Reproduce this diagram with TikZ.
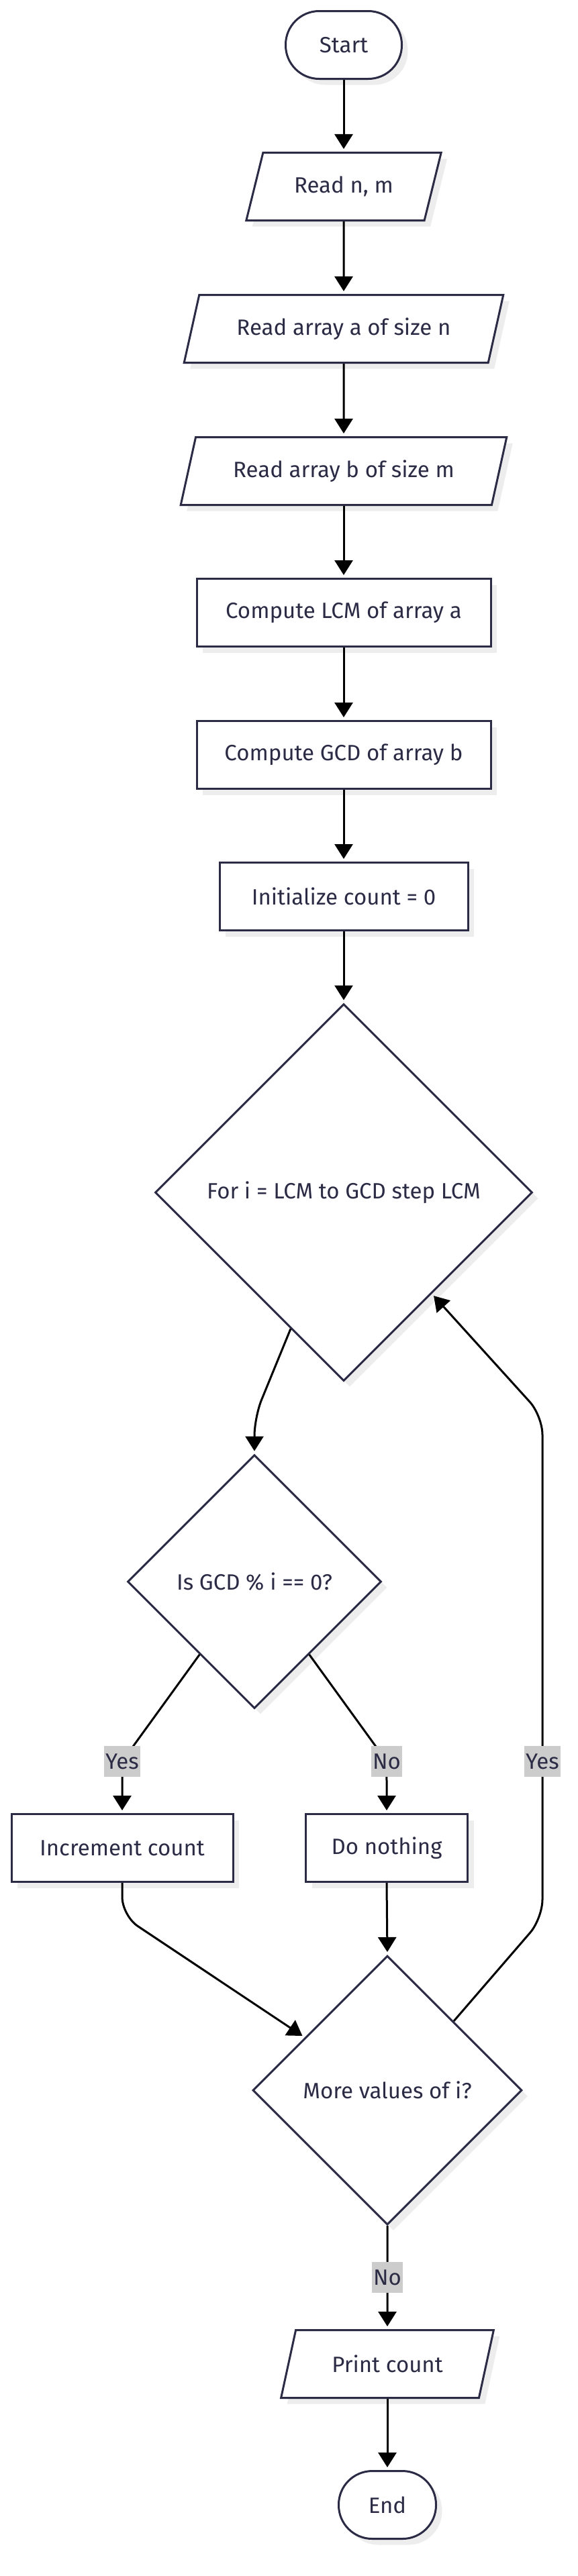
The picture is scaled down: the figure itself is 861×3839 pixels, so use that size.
\documentclass[tikz,border=0pt]{standalone}
\usepackage{fontspec}
\setmainfont{Fira Sans}
\usetikzlibrary{calc,shapes.geometric,arrows.meta,shadows}
\definecolor{ink}{HTML}{2B2B45}
\definecolor{shade}{HTML}{EDEDED}
\definecolor{tagfill}{HTML}{CCCCCC}
\tikzset{
	base/.style={draw=ink, line width=3pt, fill=white, text=ink, inner sep=0pt,
		font=\fontsize{33}{39}\selectfont,
		drop shadow={shadow xshift=9pt, shadow yshift=-9pt, fill=shade, opacity=1}},
	terminal/.style={base, rectangle, rounded corners=50pt, minimum height=101pt},
	process/.style={base, rectangle, minimum height=101pt},
	inout/.style={base, trapezium, trapezium left angle=63, trapezium right angle=117,
		trapezium stretches=true, minimum height=101pt},
	decision/.style={base, diamond, aspect=1},
	tag/.style={sharp corners, fill=tagfill, text=ink, inner xsep=2pt, inner ysep=0pt,
		minimum height=46pt, font=\fontsize{33}{39}\selectfont},
	arr/.style={line width=3pt, rounded corners=28pt, shorten >=4pt,
		-{Triangle[length=22pt,width=27pt]}}
}

\begin{document}
\begin{tikzpicture}[x=1pt, y=-1pt]
			%%%%% START %%%%%
			\useasboundingbox (0,0) rectangle (861,3839);
			
			\node[terminal, minimum width=173pt] (start) at (512,67) {Start};
			\node[inout, minimum width=291pt] (readnm) at (512,278) {Read n, m};
			\node[inout, minimum width=478pt] (reada) at (512,490) {Read array a of size n};
			\node[inout, minimum width=487pt] (readb) at (512,702) {Read array b of size m};
			
			\node[process, minimum width=438pt] (lcm) at (512,913) {Compute LCM of array a};
			\node[process, minimum width=438pt] (gcdb) at (512,1125) {Compute GCD of array b};
			\node[process, minimum width=370pt] (init) at (512,1336) {Initialize count = 0};
			
			\node[decision, minimum width=562pt, minimum height=562pt] (loop) at (512,1777) {For i = LCM to GCD step LCM};
			\node[decision, minimum width=378pt, minimum height=378pt] (test) at (379,2357) {Is GCD \% i == 0?};
			
			\node[process, minimum width=330pt] (inc) at (182,2754) {Increment count};
			\node[process, minimum width=241pt] (skip) at (576,2754) {Do nothing};
			
			\node[decision, minimum width=401pt, minimum height=401pt] (more) at (577,3115) {More values of i?};
			\node[inout, minimum width=317pt] (print) at (577,3523) {Print count};
			\node[terminal, minimum width=145pt] (end) at (577,3733) {End};
			
			% straight run
			\draw[arr] (start) -- (readnm);
			\draw[arr] (readnm) -- (reada);
			\draw[arr] (reada) -- (readb);
			\draw[arr] (readb) -- (lcm);
			\draw[arr] (lcm) -- (gcdb);
			\draw[arr] (gcdb) -- (init);
			\draw[arr] (init) -- (loop);
			
			% loop body
			\draw[arr] ($(loop.west)!0.72!(loop.south)$) -- (379,2112) -- (test.north);
			\draw[arr] ($(test.west)!0.571!(test.south)$) -- (182,2625) node[tag] {Yes} -- (inc.north);
			\draw[arr] ($(test.east)!0.571!(test.south)$) -- (576,2625) node[tag] {No} -- (skip.north);
			\draw[arr] (inc.south) -- (182,2855) -- ($(more.west)!0.39!(more.north)$);
			\draw[arr] (skip.south) -- (more.north);
			\draw[arr] ($(more.north)!0.49!(more.east)$) -- (808,2859) -- (808,2625) node[tag] {Yes} -- (808,2110) -- ($(loop.south)!0.465!(loop.east)$);
			
			\draw[arr] (more.south) -- (577,3394) node[tag] {No} -- (print.north);
			\draw[arr] (print) -- (end);
			%%%%% END %%%%%
		\end{tikzpicture}
\end{document}
